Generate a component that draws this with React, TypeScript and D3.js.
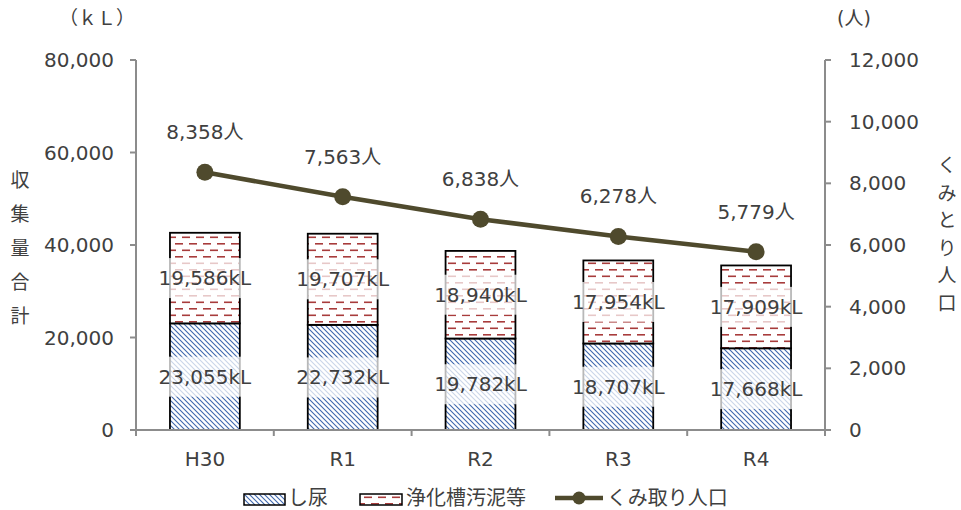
import React from "react";
import * as d3 from "d3";

const categories = ["H30", "R1", "R2", "R3", "R4"];
const shinyo = [23055, 22732, 19782, 18707, 17668];
const jokaso = [19586, 19707, 18940, 17954, 17909];
const population = [8358, 7563, 6838, 6278, 5779];
const leftTicks = [0, 20000, 40000, 60000, 80000];
const rightTicks = [0, 2000, 4000, 6000, 8000, 10000, 12000];

const W = 961;
const H = 510;
const FONT = "'DejaVu Sans', 'Noto Sans CJK JP', sans-serif";
const TXT = "#404040";
const AXIS = "#8c8c8c";
const LINE = "#4f4a2d";

export default function App() {
  const left = 136, right = 825, top = 60, bottom = 430;
  const x = d3.scaleBand<string>().domain(categories).range([left, right]).paddingInner(0.493).paddingOuter(0.2465);
  const y = d3.scaleLinear().domain([0, 80000]).range([bottom, top]);
  const y2 = d3.scaleLinear().domain([0, 12000]).range([bottom, top]);
  const fmt = d3.format(",");
  const bandStep = (right - left) / categories.length;
  const cx = (c: string) => (x(c) as number) + x.bandwidth() / 2;
  const line = d3.line<number>().x((_, i) => cx(categories[i])).y((d) => y2(d));

  const labelBox = (cxv: number, cyv: number, text: string, key: string) => (
    <g key={key}>
      <rect x={cxv - 49} y={cyv - 20} width={98} height={40} fill="#fff" fillOpacity={0.72} />
      <text x={cxv} y={cyv} textAnchor="middle" dominantBaseline="central" fontSize={20} fill={TXT} fontFamily={FONT}>{text}</text>
    </g>
  );

  return (
    <svg width={W} height={H} style={{ display: "block", position: "absolute", left: 0, top: 0 }} fontFamily={FONT}>
      <defs>
        <pattern id="hatch" width={5} height={5} patternUnits="userSpaceOnUse">
          <rect width={5} height={5} fill="#fff" />
          <path d="M-1,-1 L6,6 M-1,4 L1,6 M4,-1 L6,1" stroke="#3f68ae" strokeWidth={1.1} />
        </pattern>
        <pattern id="dash" width={14} height={13} patternUnits="userSpaceOnUse">
          <rect width={14} height={13} fill="#fff" />
          <rect x={0} y={2.5} width={8} height={1.6} fill="#a83c3c" />
          <rect x={7} y={9} width={7} height={1.6} fill="#a83c3c" />
          <rect x={0} y={9} width={1} height={1.6} fill="#a83c3c" />
        </pattern>
      </defs>
      <rect width={W} height={H} fill="#fff" />

      {/* bars */}
      {categories.map((c, i) => {
        const bx = x(c) as number;
        const bw = x.bandwidth();
        const y0 = y(0), y1 = y(shinyo[i]), yT = y(shinyo[i] + jokaso[i]);
        return (
          <g key={c}>
            <rect x={bx} y={y1} width={bw} height={y0 - y1} fill="url(#hatch)" stroke="#000" strokeWidth={1.8} />
            <rect x={bx} y={yT} width={bw} height={y1 - yT} fill="url(#dash)" stroke="#000" strokeWidth={1.8} />
          </g>
        );
      })}
      {categories.map((c, i) => {
        const y0 = y(0), y1 = y(shinyo[i]), yT = y(shinyo[i] + jokaso[i]);
        return (
          <g key={"l" + c}>
            {labelBox(cx(c), (y0 + y1) / 2, fmt(shinyo[i]) + "kL", "a")}
            {labelBox(cx(c), (y1 + yT) / 2, fmt(jokaso[i]) + "kL", "b")}
          </g>
        );
      })}

      {/* axes */}
      <line x1={left} x2={left} y1={top} y2={bottom + 6} stroke={AXIS} strokeWidth={2} />
      <line x1={right} x2={right} y1={top} y2={bottom + 6} stroke={AXIS} strokeWidth={2} />
      <line x1={left - 6} x2={right + 6} y1={bottom} y2={bottom} stroke={AXIS} strokeWidth={2} />
      {categories.map((c, i) => (
        <line key={"xt" + c} x1={left + bandStep * i} x2={left + bandStep * i} y1={bottom} y2={bottom + 6} stroke={AXIS} strokeWidth={2} />
      ))}
      {leftTicks.map((t) => (
        <g key={"lt" + t}>
          <line x1={left - 6} x2={left} y1={y(t)} y2={y(t)} stroke={AXIS} strokeWidth={2} />
          <text x={114} y={y(t)} textAnchor="end" dominantBaseline="central" fontSize={20} fill={TXT}>{fmt(t)}</text>
        </g>
      ))}
      {rightTicks.map((t) => (
        <g key={"rt" + t}>
          <line x1={right} x2={right + 6} y1={y2(t)} y2={y2(t)} stroke={AXIS} strokeWidth={2} />
          <text x={849} y={y2(t)} textAnchor="start" dominantBaseline="central" fontSize={20} fill={TXT}>{fmt(t)}</text>
        </g>
      ))}
      {categories.map((c) => (
        <text key={"xl" + c} x={cx(c)} y={459} textAnchor="middle" dominantBaseline="central" fontSize={20} fill={TXT}>{c}</text>
      ))}

      {/* line */}
      <path d={line(population) || ""} fill="none" stroke={LINE} strokeWidth={4.5} />
      {population.map((p, i) => (
        <g key={"p" + i}>
          <circle cx={cx(categories[i])} cy={y2(p)} r={8.5} fill={LINE} />
          <text x={cx(categories[i])} y={y2(p) - 40} textAnchor="middle" dominantBaseline="central" fontSize={20} fill={TXT}>{fmt(p) + "人"}</text>
        </g>
      ))}

      {/* axis titles */}
      <text x={97} y={18} textAnchor="middle" dominantBaseline="central" fontSize={19} fill={TXT}>（ｋＬ）</text>
      <text x={854} y={18} textAnchor="middle" dominantBaseline="central" fontSize={19} fill={TXT}>(人)</text>
      {["収", "集", "量", "合", "計"].map((ch, i) => (
        <text key={"yl" + i} x={20} y={180 + i * 34} textAnchor="middle" dominantBaseline="central" fontSize={19} fill={TXT}>{ch}</text>
      ))}
      {["く", "み", "と", "り", "人", "口"].map((ch, i) => (
        <text key={"yr" + i} x={947} y={165 + i * 27.6} textAnchor="middle" dominantBaseline="central" fontSize={19} fill={TXT}>{ch}</text>
      ))}

      {/* legend */}
      <rect x={244} y={494} width={41} height={11} fill="url(#hatch)" stroke="#000" strokeWidth={1.5} />
      <text x={288} y={498} dominantBaseline="central" fontSize={20} fill={TXT}>し尿</text>
      <rect x={360} y={494} width={42} height={11} fill="url(#dash)" stroke="#000" strokeWidth={1.5} />
      <text x={406} y={498} dominantBaseline="central" fontSize={20} fill={TXT}>浄化槽汚泥等</text>
      <line x1={555} x2={603} y1={498} y2={498} stroke={LINE} strokeWidth={4.5} />
      <circle cx={579} cy={498} r={6.5} fill={LINE} />
      <text x={607} y={498} dominantBaseline="central" fontSize={20} fill={TXT}>くみ取り人口</text>
    </svg>
  );
}
